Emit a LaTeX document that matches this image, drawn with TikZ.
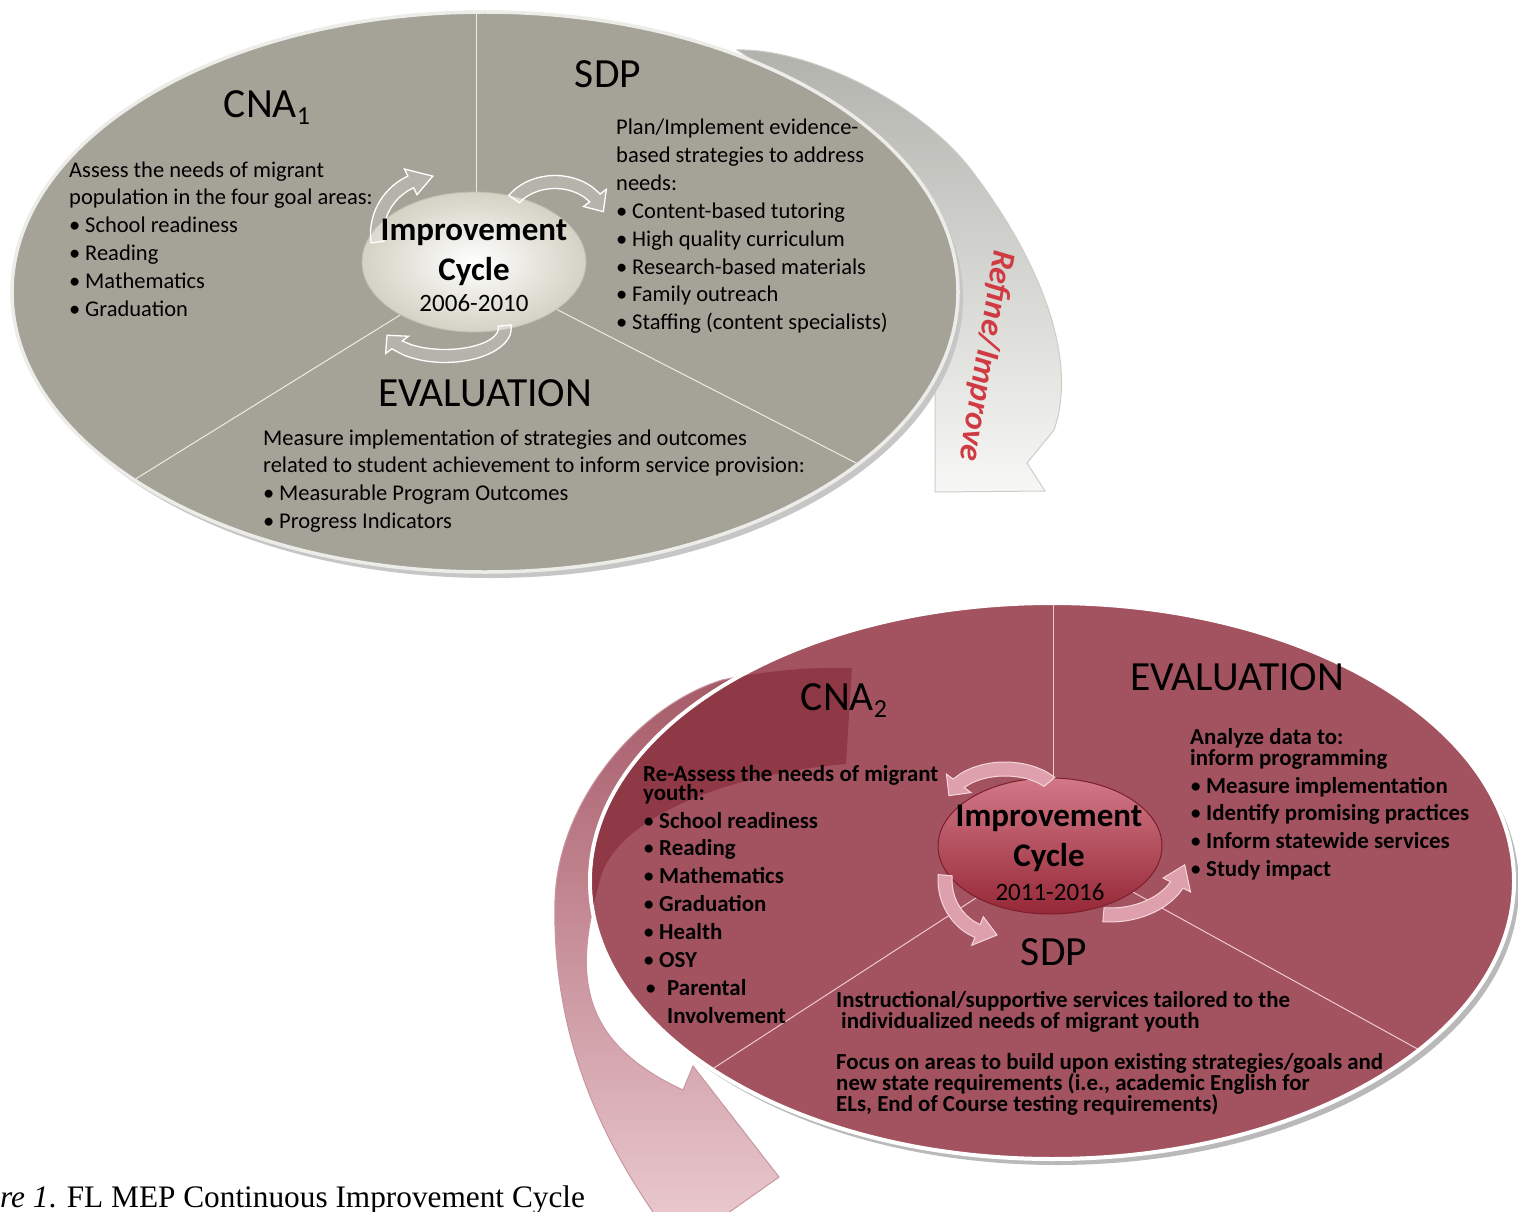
\documentclass[tikz,border=0pt]{standalone}
\usepackage{fontspec}
\setmainfont{Carlito}
\newfontfamily\capfont{Liberation Serif}
\usetikzlibrary{calc}
\definecolor{ggray}{RGB}{165,163,152}
\definecolor{grim}{RGB}{236,236,232}
\definecolor{maroonE}{RGB}{163,83,96}
\definecolor{darkmar}{RGB}{120,25,40}
\definecolor{pinkl}{RGB}{238,208,214}
\definecolor{refred}{RGB}{208,58,66}
\definecolor{linew}{RGB}{236,236,230}
\definecolor{linep}{RGB}{240,200,205}
\definecolor{cedge1}{RGB}{190,188,178}
\definecolor{cedge2}{RGB}{125,30,45}
\newcommand\tb{\makebox[16pt][l]{\textbullet}}
\newcommand\tbb{\makebox[16pt][l]{\mdseries\textbullet}}
% block arc arrow: cx, cy, rx, ry, start, end, half width, style
\newcommand\blkarc[8]{%
  \pgfmathsetmacro\blkS{ifthenelse(#6>#5,1,-1)}%
  \pgfmathsetmacro\blkB{#6-\blkS*22}%
  \path[#8] plot[smooth,variable=\t,domain=#5:\blkB,samples=10] ({#1+(#3+#7)*cos(\t)},{#2+(#4+#7)*sin(\t)})
   -- ({#1+(#3+2.2*#7)*cos(\blkB)},{#2+(#4+2.2*#7)*sin(\blkB)})
   -- ({#1+#3*cos(#6)},{#2+#4*sin(#6)})
   -- ({#1+(#3-2.2*#7)*cos(\blkB)},{#2+(#4-2.2*#7)*sin(\blkB)})
   -- plot[smooth,variable=\t,domain=\blkB:#5,samples=10] ({#1+(#3-#7)*cos(\t)},{#2+(#4-#7)*sin(\t)})
   -- cycle;}
\newcommand\bigarrowpath{(653,1212) .. controls (590,1120) and (552,1020) .. (555,900)
  .. controls (558,800) and (640,705) .. (722,680)
  .. controls (770,670) and (810,667) .. (852,668) -- (846,764)
  .. controls (720,775) and (615,820) .. (600,880)
  .. controls (575,970) and (575,1040) .. (683,1090) -- (693,1066) -- (779,1177) -- (690,1240) -- (668,1236) -- cycle}
\begin{document}
\begin{tikzpicture}[x=1pt,y=-1pt,
  body/.style={anchor=base west,inner sep=0pt,font=\fontsize{22.5}{27}\selectfont},
  bbody/.style={anchor=base west,inner sep=0pt,font=\fontsize{22.9}{27}\selectfont\bfseries},
  heading/.style={anchor=base,inner sep=0pt,font=\fontsize{41.5}{46}\selectfont},
  ctitle/.style={anchor=base,inner sep=0pt,font=\fontsize{33}{36}\selectfont\bfseries},
  cyear/.style={anchor=base,inner sep=0pt,font=\fontsize{25}{28}\selectfont},
  divline/.style={draw=linew,line width=1pt},
  divlinep/.style={draw=linep,line width=1pt},
  toparr/.style={draw=white,line width=1.3pt,fill=white,fill opacity=0.18},
  botarr/.style={draw={rgb,255:red,245;green,215;blue,220},line width=1pt,fill={rgb,255:red,222;green,160;blue,172}},
]
\fill[white] (0,0) rectangle (1518,1212);
\useasboundingbox (0,0) rectangle (1518,1212);
\clip (0,0) rectangle (1518,1212);

% ---------------- refine / improve arrow (behind top ellipse)
\shadedraw[top color={rgb,255:red,178;green,178;blue,173}, bottom color={rgb,255:red,247;green,247;blue,245},
  draw={rgb,255:red,205;green,205;blue,200}, line width=1pt]
 (737,50) .. controls (810,48) and (925,105) .. (975,175) .. controls (1035,255) and (1080,355) .. (1054,430)
 -- (1027,463) -- (1045,491) -- (935,492) -- (935,380) .. controls (930,250) and (850,120) .. cycle;

% ---------------- top ellipse
\fill[gray!45] (490,298) ellipse [x radius=473pt, y radius=280pt];
\fill[ggray, draw=grim, line width=3.5pt] (485,292) ellipse [x radius=473pt, y radius=280pt];
\begin{scope}
  \clip (485,292) ellipse [x radius=471pt, y radius=278pt];
  \draw[divline] (476,268) -- (476,-20);
  \draw[divline] (476,268) -- (-192,682);
  \draw[divline] (476,268) -- (1244,662);
\end{scope}
\shade[inner color=white, outer color={rgb,255:red,212;green,210;blue,196}] (474,262) ellipse [x radius=112pt, y radius=70pt];
\draw[draw=cedge1, line width=0.8pt] (474,262) ellipse [x radius=112pt, y radius=70pt];

\blkarc{437}{234}{60}{58}{172}{266}{6.5}{toparr}
\blkarc{555}{222}{50}{40}{215}{345}{6.5}{toparr}
\blkarc{445}{328}{60}{28}{-5}{165}{6.5}{toparr}

\node[ctitle] (imp1) at (474,240) {Improvement};
\node[ctitle] (cyc1) at (474,280) {Cycle};
\node[cyear] (yr1) at (474,311) {2006-2010};

\node[heading] (cna1) at (267,118) {CNA\raisebox{-7pt}{\fontsize{26}{26}\selectfont 1}};
\node[heading] (sdp1) at (608,88) {SDP};
\node[heading] (eva1) at (485,406) {EVALUATION};

\foreach \txt [count=\i from 0] in {Assess the needs of migrant, population in the four goal areas:, \tb School readiness, \tb Reading, \tb Mathematics, \tb Graduation}
  \node[body] (ca\i) at (69,{177+27.8*\i}) {\txt};
\foreach \txt [count=\i from 0] in {Plan/Implement evidence-, based strategies to address, needs:, \tb Content-based tutoring, \tb High quality curriculum, \tb Research-based materials, \tb Family outreach, \tb Staffing (content specialists)}
  \node[body] (sa\i) at (616,{135+27.8*\i}) {\txt};
\foreach \txt [count=\i from 0] in {Measure implementation of strategies and outcomes, related to student achievement to inform service provision:, \tb Measurable Program Outcomes, \tb Progress Indicators}
  \node[body] (ea\i) at (263,{445+27.7*\i}) {\txt};

\node[anchor=center, rotate=-99.5, inner sep=0pt, text=refred, font=\fontsize{33}{33}\selectfont\bfseries\itshape] (refine) at (986,356) {Refine/Improve};

% ---------------- big arrow (behind bottom ellipse)
\shadedraw[top color={rgb,255:red,165;green,88;blue,102}, bottom color={rgb,255:red,236;green,204;blue,210},
  draw={rgb,255:red,200;green,150;blue,160}, line width=1pt] \bigarrowpath;

% ---------------- bottom ellipse
\fill[gray!55] (1057,887) ellipse [x radius=462pt, y radius=278pt];
\fill[maroonE, draw=white, line width=4pt] (1052,881) ellipse [x radius=462pt, y radius=278pt];
\begin{scope}
  \clip (1052,881) ellipse [x radius=460pt, y radius=276pt];
  \fill[darkmar, opacity=0.45] \bigarrowpath;
  \draw[divlinep] (1053,848) -- (1053,500);
  \draw[divlinep] (1053,848) -- (387,1280);
  \draw[divlinep] (1053,848) -- (1793,1256);
\end{scope}
\shade[top color={rgb,255:red,210;green,120;blue,135}, middle color={rgb,255:red,180;green,42;blue,58}, bottom color={rgb,255:red,150;green,40;blue,55}]
  (1050,846) ellipse [x radius=112pt, y radius=68pt];
\draw[draw=cedge2, line width=1pt] (1050,846) ellipse [x radius=112pt, y radius=68pt];

\blkarc{1005}{805}{58}{36}{320}{195}{7}{botarr}
\blkarc{997}{880}{52}{55}{185}{90}{7}{botarr}
\blkarc{1110}{860}{75}{55}{95}{5}{7}{botarr}

\node[ctitle] (imp2) at (1049,826) {Improvement};
\node[ctitle] (cyc2) at (1049,866) {Cycle};
\node[cyear] (yr2) at (1050,900) {2011-2016};

\node[heading] (cna2) at (844,710) {CNA\raisebox{-7pt}{\fontsize{26}{26}\selectfont 2}};
\node[heading] (eva2) at (1237,690) {EVALUATION};
\node[heading] (sdp2) at (1054,965) {SDP};

\node[bbody] (cb0) at (643,781) {Re-Assess the needs of migrant};
\node[bbody] (cb1) at (643,800) {youth:};
\foreach \txt [count=\i from 2] in {\tbb School readiness, \tbb Reading, \tbb Mathematics, \tbb Graduation, \tbb Health, \tbb OSY}
  \node[bbody] (cb\i) at (643,{828+27.8*(\i-2)}) {\txt};
\node[bbody] (cb8) at (645,995) {\makebox[22pt][l]{\mdseries\textbullet}Parental};
\node[bbody] (cb9) at (667,1023) {Involvement};

\node[bbody] (eb0) at (1190,744) {Analyze data to:};
\node[bbody] (eb1) at (1190,765) {inform programming};
\foreach \txt [count=\i from 2] in {\tbb Measure implementation, \tbb Identify promising practices, \tbb Inform statewide services, \tbb Study impact}
  \node[bbody] (eb\i) at (1190,{793+27.7*(\i-2)}) {\txt};

\node[bbody] (sb0) at (836,1007) {Instructional/supportive services tailored to the};
\node[bbody] (sb1) at (841,1028) {individualized needs of migrant youth};
\node[bbody] (sb2) at (836,1069) {Focus on areas to build upon existing strategies/goals and};
\node[bbody] (sb3) at (836,1090) {new state requirements (i.e., academic English for};
\node[bbody] (sb4) at (836,1111) {ELs, End of Course testing requirements)};

% ---------------- caption
\node[anchor=base west, inner sep=0pt, font=\capfont\fontsize{31.3}{33}\selectfont] (cap) at (0,1207) {\textit{re 1}. FL MEP Continuous Improvement Cycle};
\end{tikzpicture}
\end{document}
